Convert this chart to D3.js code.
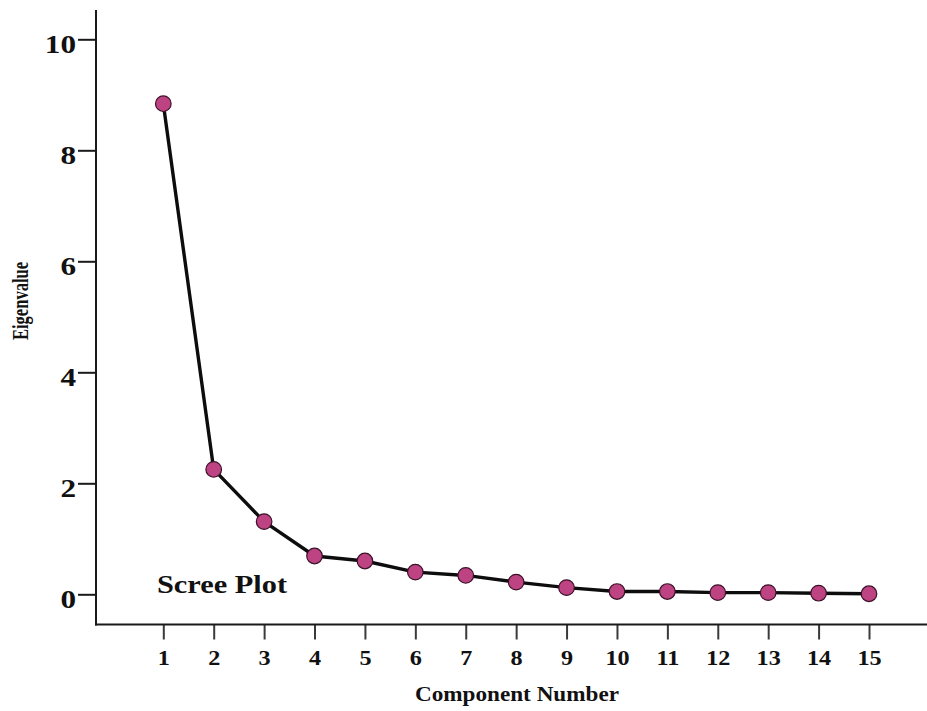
<!DOCTYPE html>
<html>
<head>
<meta charset="utf-8">
<script src="https://cdn.jsdelivr.net/npm/d3@7"></script>
<style>
  html, body { margin: 0; padding: 0; background: #fff; }
  svg { display: block; }
  text { font-family: "Liberation Serif", "Times New Roman", serif; fill: #111; }
</style>
</head>
<body>
<svg id="chart" width="927" height="711"></svg>
<script>
// ---- data ----
const components = [1, 2, 3, 4, 5, 6, 7, 8, 9, 10, 11, 12, 13, 14, 15];
const eigenvalues = [8.84, 2.25, 1.31, 0.69, 0.60, 0.40, 0.34, 0.22, 0.12, 0.05, 0.05, 0.03, 0.03, 0.02, 0.01];
const yTickValues = [0, 2, 4, 6, 8, 10];
const xTickValues = components;
const chartTitle = "Scree Plot";
const xTitle = "Component Number";
const yTitle = "Eigenvalue";

// ---- layout ----
const W = 927, H = 711;
const axisX = 96, axisY = 624.5, axisTop = 10;
const svg = d3.select("#chart");

const x = d3.scaleLinear().domain([1, 15]).range([163.3, 869]);
const y = d3.scaleLinear().domain([0, 10]).range([594.3, 39.3]);

// y axis
const yAxis = svg.append("g").attr("transform", `translate(${axisX},0)`)
  .call(d3.axisLeft(y).tickValues(yTickValues).tickSize(18).tickSizeOuter(0).tickFormat(d3.format("d")));
yAxis.select(".domain").remove();
yAxis.selectAll(".tick line").attr("stroke", "#1a1a1a").attr("stroke-width", 2);
yAxis.selectAll(".tick text")
  .attr("x", 0).attr("dy", null)
  .attr("transform", "translate(-20,13) scale(1.2,1)")
  .attr("text-anchor", "end")
  .style("font-family", "'Liberation Serif', serif")
  .style("font-size", "26px").style("font-weight", "bold").attr("fill", "#111");
svg.append("line").attr("x1", axisX).attr("x2", axisX).attr("y1", axisTop).attr("y2", axisY + 1)
  .attr("stroke", "#1a1a1a").attr("stroke-width", 2);

// x axis
const xAxis = svg.append("g").attr("transform", `translate(0,${axisY})`)
  .call(d3.axisBottom(x).tickValues(xTickValues).tickSize(15).tickSizeOuter(0).tickFormat(d3.format("d")));
xAxis.select(".domain").remove();
xAxis.selectAll(".tick line").attr("stroke", "#3a3a3a").attr("stroke-width", 2);
xAxis.selectAll(".tick text")
  .attr("y", 0).attr("dy", null)
  .attr("transform", "translate(0,40) scale(1.1,1)")
  .attr("text-anchor", "middle")
  .style("font-family", "'Liberation Serif', serif")
  .style("font-size", "22px").style("font-weight", "bold").attr("fill", "#111");
svg.append("line").attr("x1", axisX - 1).attr("x2", W).attr("y1", axisY).attr("y2", axisY)
  .attr("stroke", "#1a1a1a").attr("stroke-width", 2);

// line
const pts = components.map((c, i) => ({ c, v: eigenvalues[i] }));
svg.append("path").datum(pts)
  .attr("fill", "none").attr("stroke", "#0d0d0d").attr("stroke-width", 3.4)
  .attr("stroke-linejoin", "round")
  .attr("d", d3.line().x(d => x(d.c)).y(d => y(d.v)));

// points
svg.append("g").selectAll("circle").data(pts).join("circle")
  .attr("cx", d => x(d.c)).attr("cy", d => y(d.v)).attr("r", 7.8)
  .attr("fill", "#bd4383").attr("stroke", "#3a1228").attr("stroke-width", 1.2);

// titles
svg.append("text").text(chartTitle)
  .attr("x", 157).attr("y", 592.5)
  .attr("textLength", 130).attr("lengthAdjust", "spacingAndGlyphs")
  .style("font-size", "26px").style("font-weight", "bold");

svg.append("text").text(xTitle)
  .attr("x", 415).attr("y", 701)
  .attr("textLength", 204).attr("lengthAdjust", "spacingAndGlyphs")
  .style("font-size", "20px").style("font-weight", "bold");

svg.append("text").text(yTitle)
  .attr("transform", "translate(28,340) scale(1.35,1) rotate(-90)")
  .attr("x", 0).attr("y", 0)
  .attr("textLength", 78).attr("lengthAdjust", "spacingAndGlyphs")
  .style("font-size", "17px").style("font-weight", "bold");
</script>
</body>
</html>
